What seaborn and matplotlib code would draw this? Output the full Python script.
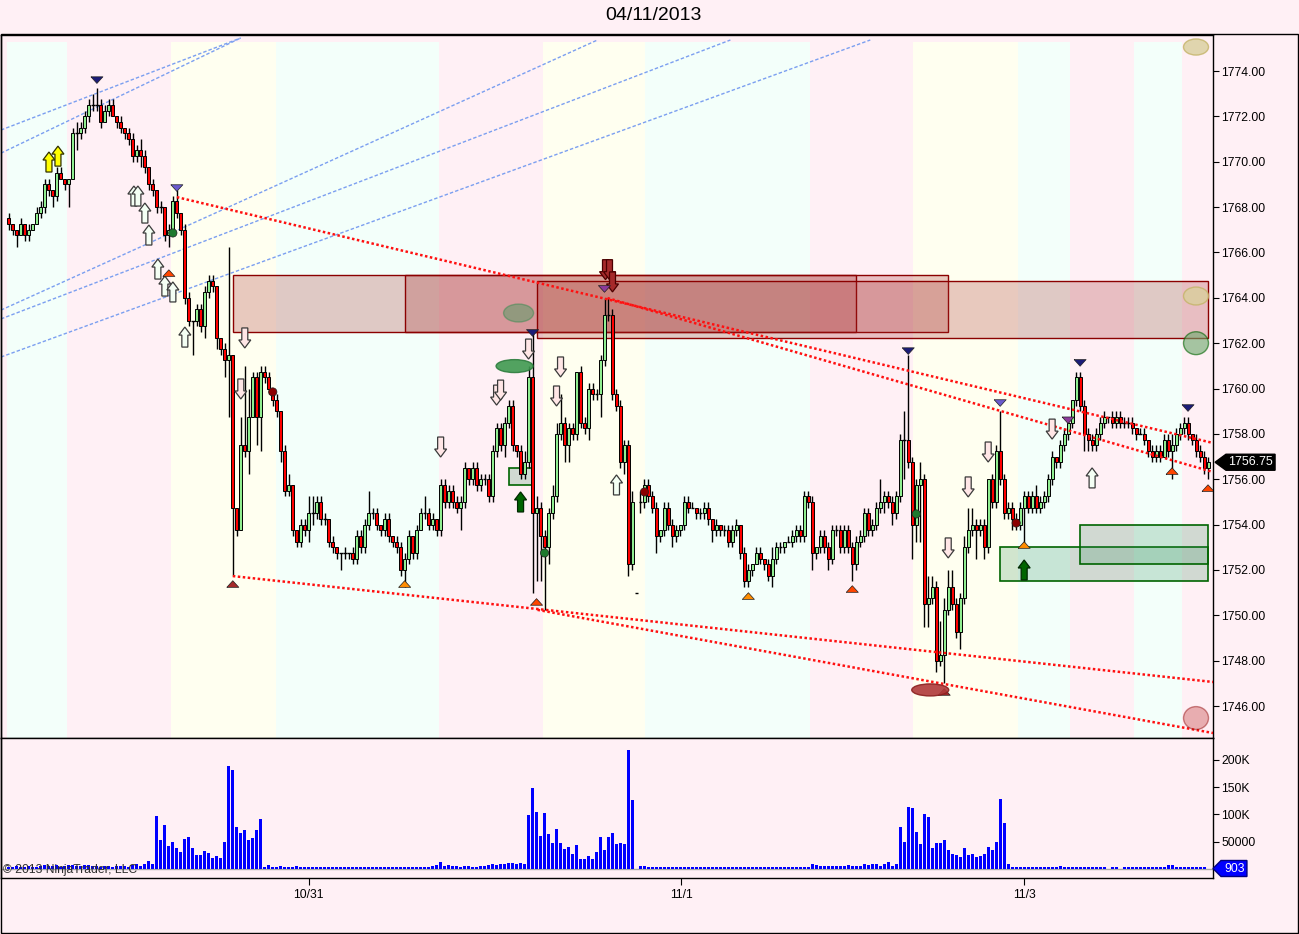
import numpy as np
import pandas as pd
import matplotlib
matplotlib.use("Agg")
import matplotlib.pyplot as plt
import seaborn as sns
from matplotlib.patches import Rectangle, Ellipse, Polygon
from matplotlib.transforms import blended_transform_factory

sns.set_theme(style="white")
plt.rcParams['font.family'] = ['Liberation Sans', 'DejaVu Sans']

# ---------------- data ----------------
title = "04/11/2013"
first_open = 1767.5
closes = [
    1767.25, 1767.0, 1766.75, 1767.25, 1766.75, 1767.0, 1767.25, 1767.75, 1768.0, 1769.0,
    1768.75, 1768.5, 1769.5, 1769.25, 1769.0, 1769.25, 1771.25, 1771.25, 1771.5, 1772.0,
    1772.5, 1772.5, 1772.5, 1771.75, 1772.25, 1772.5, 1772.0, 1771.75, 1771.5, 1771.25,
    1771.0, 1770.25, 1770.5, 1770.25, 1769.75, 1769.0, 1768.75, 1768.0, 1768.0, 1766.75,
    1767.0, 1768.25, 1767.75, 1767.0, 1764.0, 1763.0, 1763.0, 1763.5, 1762.75, 1764.25,
    1764.75, 1764.5, 1762.25, 1761.75, 1761.25, 1761.5, 1754.75, 1753.75, 1757.5, 1757.25,
    1758.75, 1760.5, 1758.75, 1760.75, 1760.5, 1760.0, 1759.5, 1759.0, 1757.25, 1755.5,
    1755.75, 1753.75, 1753.25, 1754.0, 1753.75, 1754.5, 1754.5, 1755.0, 1754.25, 1754.25,
    1753.25, 1753.0, 1752.75, 1752.75, 1752.75, 1752.75, 1752.5, 1753.5, 1753.0, 1754.0,
    1754.5, 1754.5, 1754.0, 1753.75, 1754.25, 1753.5, 1753.25, 1753.0, 1752.0, 1752.5,
    1753.5, 1752.75, 1753.75, 1754.5, 1754.5, 1754.0, 1754.25, 1753.75, 1755.75, 1755.0,
    1755.5, 1755.0, 1754.75, 1755.0, 1756.5, 1756.0, 1756.5, 1755.75, 1756.0, 1756.0,
    1755.25, 1757.25, 1758.25, 1757.5, 1758.5, 1759.25, 1757.5, 1757.25, 1756.25, 1756.75,
    1760.5, 1754.5, 1754.75, 1753.5, 1753.0, 1754.5, 1755.25, 1758.0, 1758.5, 1757.5,
    1758.25, 1758.0, 1760.75, 1758.5, 1758.25, 1760.0, 1759.75, 1759.75, 1761.25, 1763.25,
    1763.25, 1759.75, 1759.25, 1756.75, 1757.5, 1752.25, 1755.0, 1751.0, 1755.0, 1755.75,
    1755.25, 1754.75, 1753.5, 1753.75, 1754.75, 1754.0, 1753.5, 1753.75, 1754.0, 1755.0,
    1754.75, 1754.75, 1754.5, 1754.5, 1754.75, 1754.25, 1753.75, 1754.0, 1753.75, 1753.75,
    1753.25, 1753.75, 1754.0, 1752.75, 1751.5, 1752.0, 1752.25, 1752.75, 1752.5, 1752.25,
    1751.75, 1752.5, 1753.0, 1753.0, 1753.25, 1753.25, 1753.5, 1753.75, 1753.5, 1755.25,
    1755.0, 1752.75, 1753.0, 1753.5, 1753.0, 1752.5, 1753.75, 1753.75, 1753.0, 1753.75,
    1753.0, 1752.25, 1753.25, 1753.5, 1754.5, 1753.75, 1754.0, 1754.75, 1755.0, 1755.25,
    1755.0, 1754.5, 1755.25, 1757.75, 1757.75, 1756.75, 1754.0, 1755.75, 1756.0, 1750.5,
    1750.75, 1751.25, 1748.0, 1748.25, 1750.25, 1751.25, 1750.5, 1749.25, 1750.75, 1753.0,
    1753.75, 1754.0, 1753.75, 1754.0, 1753.0, 1756.0, 1755.0, 1757.25, 1756.0, 1754.5,
    1754.75, 1754.25, 1754.0, 1754.75, 1755.25, 1754.75, 1755.25, 1754.75, 1755.0, 1755.25,
    1756.0, 1757.0, 1756.75, 1757.5, 1758.0, 1758.5, 1759.5, 1760.5, 1759.25, 1758.0,
    1757.75, 1757.5, 1758.0, 1758.5, 1758.75, 1758.75, 1758.5, 1758.75, 1758.5, 1758.5,
    1758.5, 1758.25, 1758.0, 1758.0, 1757.75, 1757.25, 1757.0, 1757.25, 1757.0, 1757.75,
    1757.25, 1757.5, 1758.0, 1758.25, 1758.5, 1758.0, 1757.75, 1757.25, 1757.0, 1756.5,
    1756.75,
]
open_gaps = {157: 1751.0, 158: 1755.0}
# wick lengths above / below the body, in ticks of 0.25
upper_wick = [
    1, 0, 0, 1, 0, 1, 0, 1, 1, 1,   1, 0, 1, 1, 0, 0, 1, 2, 1, 1,
    1, 2, 3, 1, 1, 1, 1, 0, 1, 0,   1, 1, 1, 2, 1, 0, 1, 0, 1, 0,
    1, 1, 2, 0, 1, 1, 0, 1, 1, 1,   1, 1, 0, 0, 1, 19, 0, 0, 5, 14,
    5, 1, 1, 1, 1, 1, 0, 1, 0, 1,   2, 0, 0, 1, 1, 3, 3, 1, 1, 1,
    0, 1, 0, 0, 1, 0, 1, 1, 1, 1,   4, 1, 1, 0, 1, 1, 0, 1, 1, 1,
    1, 0, 1, 1, 3, 1, 1, 0, 1, 1,   1, 1, 1, 1, 1, 0, 1, 1, 1, 1,
    1, 1, 1, 1, 1, 1, 1, 0, 1, 2,   2, 8, 2, 1, 1, 1, 2, 2, 5, 1,
    1, 1, 0, 1, 1, 1, 1, 1, 1, 3,   3, 1, 1, 1, 1, 1, 2, 0, 2, 1,
    1, 1, 1, 0, 1, 1, 1, 1, 0, 1,   1, 1, 0, 1, 1, 1, 0, 1, 0, 1,
    1, 1, 1, 0, 1, 1, 0, 1, 1, 0,   1, 2, 1, 1, 0, 1, 1, 1, 1, 1,
    1, 1, 0, 1, 1, 1, 1, 1, 1, 1,   1, 1, 1, 1, 1, 1, 1, 1, 4, 1,
    1, 1, 1, 1, 5, 15, 1, 1, 3, 1,  4, 2, 1, 6, 2, 3, 3, 1, 1, 2,
    4, 3, 1, 1, 1, 0, 1, 1, 7, 1,   1, 1, 1, 1, 1, 1, 1, 2, 1, 1,
    1, 1, 0, 1, 1, 1, 0, 1, 1, 1,   1, 1, 1, 1, 1, 0, 1, 1, 1, 1,
    1, 1, 0, 1, 1, 0, 1, 1, 1, 1,   1, 2, 1, 1, 1, 1, 0, 1, 1, 1,
    1,
]
lower_wick = [
    1, 1, 2, 0, 1, 1, 0, 0, 1, 1,   1, 2, 1, 0, 1, 4, 0, 3, 1, 1,
    1, 1, 1, 1, 0, 1, 0, 1, 1, 1,   1, 1, 1, 2, 1, 1, 1, 1, 1, 1,
    2, 1, 1, 1, 1, 1, 6, 1, 1, 2,   1, 1, 2, 1, 3, 10, 12, 1, 0, 1,
    4, 0, 5, 6, 1, 1, 1, 1, 2, 1,   1, 1, 1, 1, 1, 2, 2, 1, 1, 1,
    1, 1, 1, 3, 1, 1, 1, 1, 1, 1,   1, 1, 1, 1, 1, 1, 1, 1, 1, 3,
    1, 1, 1, 0, 1, 1, 1, 1, 1, 1,   1, 1, 1, 4, 1, 1, 1, 1, 1, 1,
    1, 1, 1, 1, 2, 1, 1, 1, 1, 1,   1, 14, 12, 8, 11, 3, 1, 1, 1, 3,
    3, 1, 1, 1, 1, 2, 1, 1, 4, 1,   1, 1, 1, 1, 2, 2, 1, 0, 2, 1,
    1, 1, 3, 1, 1, 1, 2, 1, 1, 1,   1, 0, 1, 1, 1, 1, 2, 1, 1, 1,
    1, 1, 1, 1, 1, 1, 1, 0, 1, 1,   1, 2, 1, 1, 1, 0, 1, 1, 1, 1,
    1, 3, 1, 1, 1, 2, 1, 1, 1, 1,   1, 3, 1, 1, 1, 1, 1, 1, 1, 2,
    1, 2, 1, 1, 7, 1, 6, 3, 10, 4,  4, 1, 2, 1, 5, 1, 1, 1, 3, 1,
    1, 1, 5, 1, 2, 1, 1, 1, 1, 1,   1, 2, 1, 1, 7, 1, 1, 1, 1, 1,
    1, 1, 1, 1, 1, 1, 1, 1, 1, 3,   2, 1, 1, 1, 1, 1, 1, 1, 1, 1,
    1, 1, 1, 0, 1, 1, 1, 1, 1, 0,   1, 5, 1, 1, 1, 1, 1, 1, 1, 1,
    2,
]
volume_k = [
    4, 3, 5, 3, 4, 6, 3, 4, 5, 7,   6, 5, 8, 4, 6, 7, 8, 5, 6, 8,
    7, 5, 6, 4, 5, 6, 4, 6, 6, 5,   4, 8, 9, 6, 9, 15, 9, 97, 53, 80,
    42, 49, 38, 31, 55, 59, 38, 26, 26, 33,   29, 20, 24, 20, 49, 188, 181, 77, 66, 71,
    53, 57, 71, 92, 4, 7, 4, 3, 5, 4,   3, 4, 5, 3, 3, 4, 3, 3, 4, 3,
    4, 4, 3, 3, 4, 3, 3, 4, 3, 3,   3, 3, 3, 3, 4, 3, 3, 3, 3, 3,
    3, 3, 3, 4, 3, 4, 5, 8, 13, 6,   7, 5, 5, 4, 6, 5, 4, 3, 5, 6,
    8, 9, 7, 10, 9, 11, 11, 9, 11, 10,   99, 148, 104, 60, 102, 64, 48, 73, 48, 37,
    40, 27, 44, 18, 18, 24, 18, 31, 59, 35,   59, 66, 45, 48, 45, 218, 126, 0, 6, 5,
    3, 3, 3, 3, 3, 3, 3, 4, 3, 4,   3, 3, 3, 3, 3, 3, 3, 3, 4, 3,
    3, 3, 3, 3, 4, 4, 3, 3, 3, 3,   3, 3, 3, 3, 3, 3, 3, 3, 3, 4,
    3, 10, 8, 6, 5, 5, 5, 5, 6, 5,   8, 5, 6, 5, 9, 8, 9, 9, 6, 9,
    13, 6, 9, 77, 49, 113, 112, 68, 46, 101,   95, 38, 48, 48, 53, 35, 27, 26, 22, 38,
    26, 27, 22, 24, 27, 40, 35, 49, 128, 84,   9, 4, 4, 4, 3, 3, 3, 3, 3, 3,
    3, 3, 4, 5, 4, 3, 3, 3, 4, 3,   3, 3, 3, 3, 3, 0, 3, 3, 0, 3,
    3, 4, 3, 3, 3, 3, 4, 3, 3, 3,   7, 7, 4, 3, 3, 3, 3, 3, 3, 3,
    0.903,
]
price_ticks = [1746, 1748, 1750, 1752, 1754, 1756, 1758, 1760, 1762, 1764, 1766, 1768, 1770, 1772, 1774]
vol_ticks = [50000, 100000, 150000, 200000]
vol_tick_labels = ["50000", "100K", "150K", "200K"]
date_pos = [75, 168.25, 254]
date_labels = ["10/31", "11/1", "11/3"]
last_price_label = "1756.75"
last_volume_label = "903"

# session shading (bar-index boundaries + colour key)
session_edges = [-0.5, 14.5, 40.5, 66.75, 107.5, 133.5, 159.25, 200.5, 226.25, 252.5, 265.5, 281.5, 293.5, 301.25]
session_kind = ["m", "p", "y", "m", "p", "y", "m", "p", "y", "m", "p", "m", "p"]

# zones: (start bar, end bar, low, high)
red_zones = [(56, 235, 1762.5, 1765.0), (99, 212, 1762.5, 1765.0), (132, 300, 1762.25, 1764.75)]
green_zones = [(125, 130.75, 1755.75, 1756.5), (248, 300, 1751.5, 1753.0), (268, 300, 1752.25, 1754.0)]
# trend lines: (bar0, price0, bar1, price1)
red_trend = [(42, 1768.44, 301.25, 1757.6), (149.75, 1763.99, 301.25, 1756.32),
             (56, 1751.73, 301.25, 1747.06), (132.25, 1750.24, 301.25, 1744.81)]
blue_fan = [(-2, 1771.4, 58, 1775.46), (-2, 1770.38, 58, 1775.46),
            (-2, 1763.46, 147.25, 1775.37), (-2, 1763.07, 180.5, 1775.37), (-2, 1761.39, 215.5, 1775.37)]
# swing markers
tri_down_bar = [22, 42, 131, 149, 225, 248, 265, 268, 295]
tri_down_px = [1773.6, 1768.84, 1762.45, 1764.39, 1761.65, 1759.36, 1758.6, 1761.13, 1759.14]
tri_down_col = ["navy", "slate", "navy", "purple", "navy", "slate", "purple", "navy", "navy"]
tri_up_bar = [40, 56, 99, 132, 185, 211, 234, 254, 291, 300]
tri_up_px = [1765.09, 1751.38, 1751.38, 1750.59, 1750.85, 1751.16, 1746.62, 1753.1, 1756.36, 1755.61]
tri_up_col = ["ored", "brown", "orange", "ored", "orange", "ored", "brown", "orange", "ored", "ored"]
# signal arrows: (bar, tip price)
up_hollow = [(31.25, 1768.93), (32.25, 1768.93), (34, 1768.18), (35, 1767.21), (37.25, 1765.71),
             (39, 1764.96), (41, 1764.7), (44, 1762.71), (152, 1756.19), (271, 1756.5)]
up_yellow = [(10, 1770.43), (12.25, 1770.69)]
up_green = [(128, 1755.44), (254, 1752.44)]
down_hollow = [(59, 1761.79), (58, 1759.54), (108, 1756.98), (122, 1759.27), (123, 1759.49), (130, 1761.3),
               (138, 1760.51), (137, 1759.23), (235, 1752.53), (240, 1755.22), (245, 1756.76), (261, 1757.77)]
down_dark = [(149.25, 1764.8), (150.25, 1764.8), (151, 1764.26)]
# ellipses: (bar, price, width bars, height points, kind)
ellipses = [(127.5, 1763.33, 7.5, 0.79, "g_light"), (126.5, 1760.99, 9.25, 0.57, "g_dark"),
            (230.5, 1746.71, 9.25, 0.53, "r_dark"), (297, 1775.06, 6.25, 0.71, "tan"),
            (297, 1764.08, 6.25, 0.79, "tan"), (297, 1762.0, 6.25, 1.01, "g_circ"),
            (297, 1745.47, 6.25, 1.01, "r_circ")]
dot_bar = [41, 66, 134, 159, 227, 252]
dot_px = [1766.86, 1759.85, 1752.75, 1755.44, 1754.47, 1754.07]
dot_kind = ["green", "red", "green", "red", "green", "red"]

# ---------------- derived ----------------
close = np.array(closes, dtype=float)
n = len(close)
idx = np.arange(n)
opn = np.r_[first_open, close[:-1]]
for k, v in open_gaps.items():
    opn[k] = v
hi = np.maximum(opn, close) + 0.25 * np.array(upper_wick, dtype=float)
lo = np.minimum(opn, close) - 0.25 * np.array(lower_wick, dtype=float)
vol = np.array(volume_k, dtype=float) * 1000

BG = "#fff0f5"
W_PX, H_PX = 1299, 934
fig = plt.figure(figsize=(W_PX / 100, H_PX / 100), dpi=100, facecolor=BG)
ax1 = fig.add_axes([1 / W_PX, (H_PX - 738) / H_PX, 1212 / W_PX, 703 / H_PX])
ax2 = fig.add_axes([1 / W_PX, (H_PX - 878) / H_PX, 1212 / W_PX, 140 / H_PX])
for ax in (ax1, ax2):
    ax.set_facecolor(BG)
    ax.grid(False)
    for s in ax.spines.values():
        s.set_color("black")
        s.set_linewidth(1.0)

XMIN, XMAX = -2, 301.25
ax1.set_xlim(XMIN, XMAX)
ax1.set_ylim(1744.59, 1775.59)

# session stripes
kind_col = {"m": "#f3fffa", "p": BG, "y": "#fffff0"}
for a, b, k in zip(session_edges[:-1], session_edges[1:], session_kind):
    ax1.axvspan(a, b, ymin=0, ymax=0.99, color=kind_col[k], lw=0, zorder=0)

# zones
for (a, b, l, h) in red_zones:
    ax1.add_patch(Rectangle((a, l), b - a, h - l, facecolor=(165 / 255, 42 / 255, 42 / 255, 0.25),
                            edgecolor="#8b0000", lw=1.0, zorder=1))
for (a, b, l, h) in green_zones:
    ax1.add_patch(Rectangle((a, l), b - a, h - l, facecolor=(46 / 255, 139 / 255, 87 / 255, 0.22),
                            edgecolor="#006400", lw=1.2, zorder=1))

# fan lines and trend lines
for (x0, y0, x1, y1) in blue_fan:
    ax1.plot([x0, x1], [y0, y1], color="#7b9ff0", lw=1.0, ls=(0, (2.5, 1.5)), zorder=2, clip_on=True)
for (x0, y0, x1, y1) in red_trend:
    ax1.plot([x0, x1], [y0, y1], color="#ff1010", lw=1.8, ls=(0, (1, 1)), zorder=6)

# candles
up = close > opn
dn = close < opn
dj = close == opn
ax1.vlines(idx, lo, hi, color="black", lw=1.0, zorder=3)
ax1.bar(idx[up], (close - opn)[up], bottom=opn[up], width=0.75, color="#90ee90",
        edgecolor="black", linewidth=0.7, zorder=4)
ax1.bar(idx[dn], (opn - close)[dn], bottom=close[dn], width=0.75, color="#ff0000",
        edgecolor="black", linewidth=0.7, zorder=4)
ax1.hlines(close[dj], idx[dj] - 0.45, idx[dj] + 0.45, color="black", lw=1.0, zorder=4)

# arrows
PX_X = 0.25
PX_Y = 1 / 22.68


def arrow(i, tip, direction, fc, ec):
    s = 1 if direction == "up" else -1
    pts = [(0, 0), (6, -8), (3, -8), (3, -20), (-3, -20), (-3, -8), (-6, -8)]
    verts = [(i + dx * PX_X, tip + s * dy * PX_Y) for dx, dy in pts]
    ax1.add_patch(Polygon(verts, closed=True, facecolor=fc, edgecolor=ec, lw=0.9, zorder=7))


for i, p in up_hollow:
    arrow(i, p, "up", "#f4fff4", "#3a3a3a")
for i, p in up_yellow:
    arrow(i, p, "up", "#ffff00", "#303000")
for i, p in up_green:
    arrow(i, p, "up", "#006400", "#002800")
for i, p in down_hollow:
    arrow(i, p, "down", "#ffe6e6", "#3a3a3a")
for i, p in down_dark:
    arrow(i, p, "down", "#a52a2a", "#4a0000")

# triangles
tri_colors = {"navy": "#1c1c78", "slate": "#6a5acd", "purple": "#8b3a9b",
              "ored": "#ff4500", "orange": "#ff8c00", "brown": "#a52a2a"}
down_tri = [(-1, 0.55), (1, 0.55), (0, -0.55), (-1, 0.55)]
up_tri = [(-1, -0.55), (1, -0.55), (0, 0.55), (-1, -0.55)]
ax1.scatter(tri_down_bar, tri_down_px, marker=down_tri, s=75,
            c=[tri_colors[c] for c in tri_down_col], edgecolors="#202020", linewidths=0.5, zorder=8)
ax1.scatter(tri_up_bar, tri_up_px, marker=up_tri, s=75,
            c=[tri_colors[c] for c in tri_up_col], edgecolors="#202020", linewidths=0.5, zorder=8)

# ellipses
ell_style = {"g_light": ("#4e9a62", "#3a8a50", 0.5), "g_dark": ("#3f9a50", "#2e7d3e", 0.9),
             "r_dark": ("#b03a3a", "#8b2020", 0.9), "tan": ("#d9cf9c", "#c4b468", 0.8),
             "g_circ": ("#6aa86a", "#006400", 0.6), "r_circ": ("#cd5c5c", "#8b0000", 0.45)}
for (i, p, w, h, k) in ellipses:
    fc, ec, al = ell_style[k]
    ax1.add_patch(Ellipse((i, p), w, h, facecolor=fc, edgecolor=ec, alpha=al, lw=1.0, zorder=8))

# dots (seaborn scatter)
dots = pd.DataFrame({"bar": dot_bar, "price": dot_px, "kind": dot_kind})
sns.scatterplot(data=dots, x="bar", y="price", hue="kind",
                palette={"green": "#1e7a2e", "red": "#8b0000"}, s=35,
                edgecolor="#202020", linewidth=0.5, legend=False, ax=ax1, zorder=9)

ax1.set_xlim(XMIN, XMAX)
ax1.set_ylim(1744.59, 1775.59)
ax1.set_xlabel("")
ax1.set_ylabel("")
ax1.set_xticks([])
ax1.yaxis.tick_right()
ax1.set_yticks(price_ticks)
ax1.set_yticklabels([f"{v:.2f}" for v in price_ticks])
ax1.tick_params(axis="y", which="both", right=True, left=False, direction="out", length=4,
                width=0.8, color="black", labelsize=8.7, pad=2, labelcolor="black")

# volume (seaborn bars on native numeric scale)
vdf = pd.DataFrame({"bar": idx, "volume": vol})
sns.barplot(data=vdf, x="bar", y="volume", native_scale=True, color="#0000ff", saturation=1,
            width=0.75, errorbar=None, linewidth=0, ax=ax2)
ax2.axhline(0, color="#a8a8a8", lw=1.0, zorder=0.5)
ax2.set_xlim(XMIN, XMAX)
ax2.set_ylim(-16500, 240000)
ax2.set_xlabel("")
ax2.set_ylabel("")
ax2.yaxis.tick_right()
ax2.set_yticks(vol_ticks)
ax2.set_yticklabels(vol_tick_labels)
ax2.tick_params(axis="y", which="both", right=True, left=False, direction="out", length=4,
                width=0.8, color="black", labelsize=8.7, pad=2, labelcolor="black")
ax2.set_xticks(date_pos)
ax2.set_xticklabels(date_labels)
ax2.tick_params(axis="x", which="both", bottom=True, top=False, direction="out", length=5,
                width=0.8, color="black", labelsize=8.7, pad=3, labelcolor="black")

# last price / volume flags on the right axis
tr1 = blended_transform_factory(ax1.transAxes, ax1.transData)
lp = close[-1]
hh = 8 * PX_Y
ax1.add_patch(Polygon([(1.0017, lp), (1.0107, lp + hh), (1.0512, lp + hh), (1.0512, lp - hh), (1.0107, lp - hh)],
                      closed=True, transform=tr1, facecolor="black", edgecolor="black", clip_on=False, zorder=10))
ax1.text(1.031, lp, last_price_label, transform=tr1, ha="center", va="center", color="white",
         fontsize=8.9, clip_on=False, zorder=11)
tr2 = blended_transform_factory(ax2.transAxes, ax2.transData)
lv = vol[-1]
vh = 8 * 1832
ax2.add_patch(Polygon([(1.0, lv), (1.0066, lv + vh), (1.028, lv + vh), (1.028, lv - vh), (1.0066, lv - vh)],
                      closed=True, transform=tr2, facecolor="#0000ff", edgecolor="#000080", clip_on=False, zorder=10))
ax2.text(1.0175, lv, last_volume_label, transform=tr2, ha="center", va="center", color="white",
         fontsize=8.7, clip_on=False, zorder=11)

# title, copyright, outer frame
fig.text(653 / W_PX, 1 - 16 / H_PX, title, ha="center", va="center", fontsize=14, color="black")
fig.text(3 / W_PX, 1 - 870 / H_PX, "\u00a9 2013 NinjaTrader, LLC", ha="left", va="center",
         fontsize=8.7, color="#303030", zorder=20)
fig.add_artist(Rectangle((0.0004, 0.0011), 0.9988, 0.9625, transform=fig.transFigure,
                         fill=False, edgecolor="black", lw=1.0))

fig.savefig("out.png", dpi=100, facecolor=BG)
